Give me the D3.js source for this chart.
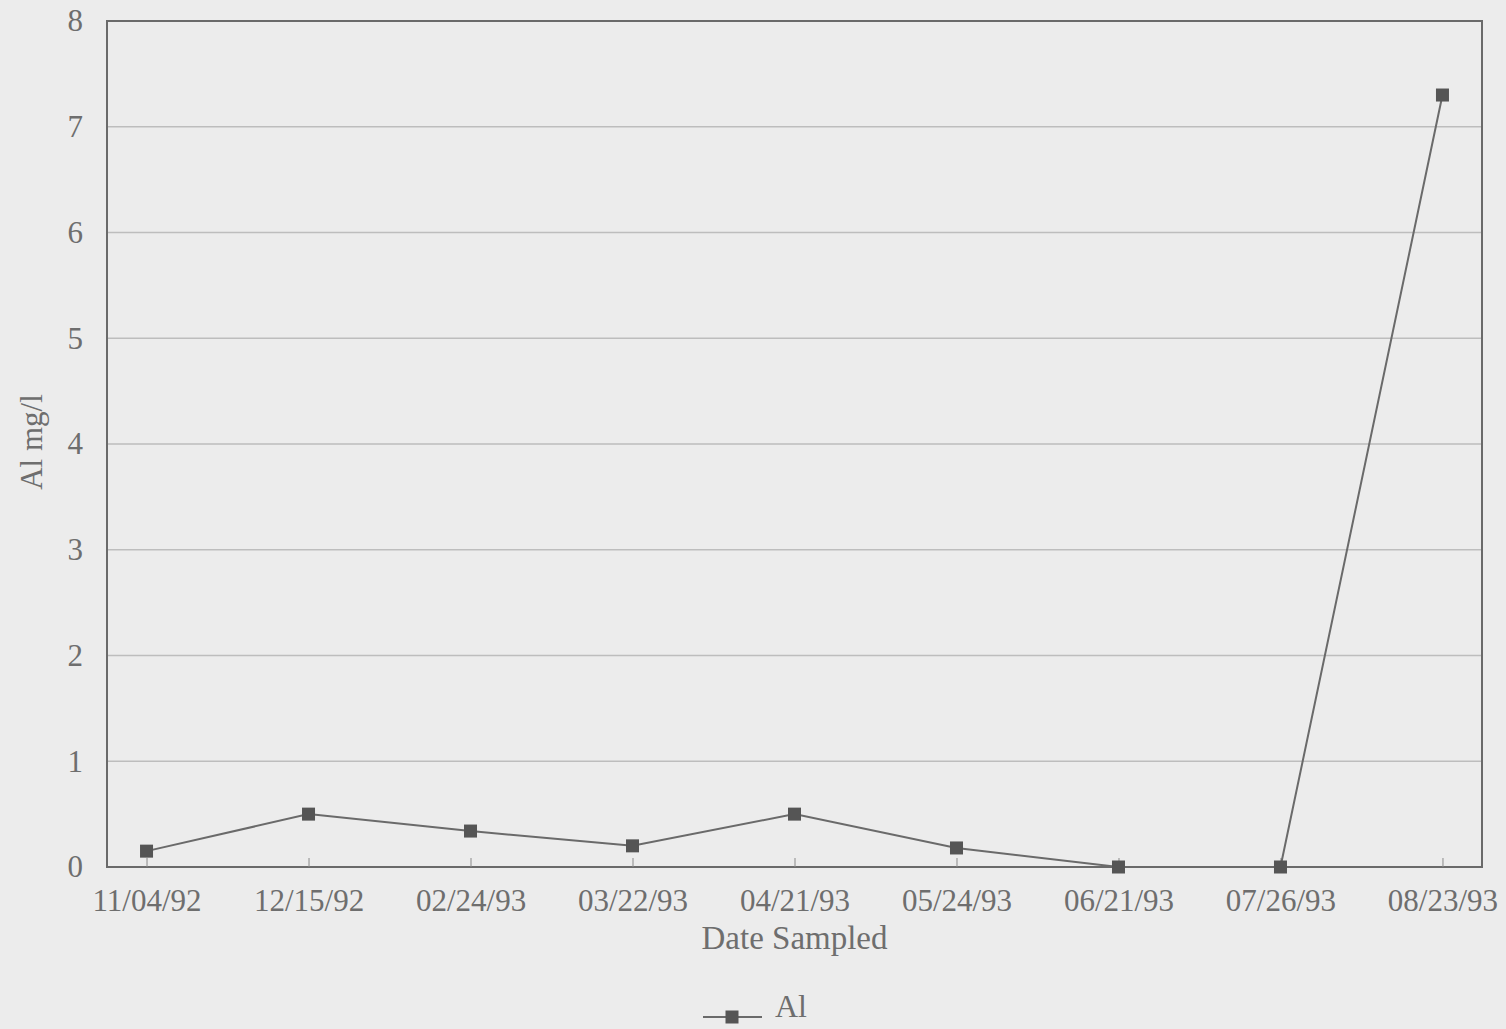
<!DOCTYPE html>
<html>
<head>
<meta charset="utf-8">
<script src="https://cdn.jsdelivr.net/npm/d3@7"></script>
<style>
  html, body { margin: 0; padding: 0; background: #ececec; }
  svg { display: block; }
  text { font-family: "Liberation Serif", "DejaVu Serif", serif; fill: #6e6e6e; }
</style>
</head>
<body>
<div id="chart"></div>
<script>
// Al concentration by sampling date
var dates = ["11/04/92", "12/15/92", "02/24/93", "03/22/93", "04/21/93",
             "05/24/93", "06/21/93", "07/26/93", "08/23/93"];
var alValues = [0.15, 0.5, 0.34, 0.2, 0.5, 0.18, 0, 0, 7.3];
var yTicks = [0, 1, 2, 3, 4, 5, 6, 7, 8];

var W = 1506, H = 1029;
var margin = { top: 21, right: 24, bottom: 162, left: 107 };
var width = W - margin.left - margin.right;
var height = H - margin.top - margin.bottom;

var svg = d3.select("#chart").append("svg")
    .attr("width", W)
    .attr("height", H);

var g = svg.append("g")
    .attr("transform", "translate(" + margin.left + "," + margin.top + ")");

var x = d3.scalePoint().domain(dates).range([0, width]).padding(0.244);
var y = d3.scaleLinear().domain([0, 8]).range([height, 0]);

// Gridlines
g.append("g")
    .selectAll("line")
    .data(yTicks.filter(function (d) { return d > 0 && d < 8; }))
    .join("line")
    .attr("x1", 0).attr("x2", width)
    .attr("y1", function (d) { return y(d); })
    .attr("y2", function (d) { return y(d); })
    .attr("stroke", "#bdbdbd")
    .attr("stroke-width", 1.3);

// Frame
g.append("rect")
    .attr("width", width).attr("height", height)
    .attr("fill", "none")
    .attr("stroke", "#6a6a6a")
    .attr("stroke-width", 2);

// Y axis labels
var yAxis = d3.axisLeft(y).tickValues(yTicks).tickSize(0).tickPadding(24)
    .tickFormat(d3.format("d"));
g.append("g").call(yAxis)
    .call(function (s) { s.select(".domain").remove(); })
    .selectAll("text")
    .attr("font-size", "31px")
    .attr("fill", "#6e6e6e")
    .attr("font-family", "Liberation Serif, serif");

// X axis: inward ticks, labels below
var xAxis = d3.axisBottom(x).tickSize(-9).tickPadding(22);
var xg = g.append("g").attr("transform", "translate(0," + height + ")").call(xAxis);
xg.select(".domain").remove();
xg.selectAll("line").attr("stroke", "#8a8a8a").attr("stroke-width", 1);
xg.selectAll("text")
    .attr("font-size", "31px")
    .attr("fill", "#6e6e6e")
    .attr("font-family", "Liberation Serif, serif");

// Series line
var line = d3.line()
    .x(function (d, i) { return x(dates[i]); })
    .y(function (d) { return y(d); });

g.append("path")
    .datum(alValues)
    .attr("d", line)
    .attr("fill", "none")
    .attr("stroke", "#6a6a6a")
    .attr("stroke-width", 2);

// Square markers
var ms = 13;
g.selectAll(".marker")
    .data(alValues)
    .join("rect")
    .attr("class", "marker")
    .attr("x", function (d, i) { return x(dates[i]) - ms / 2; })
    .attr("y", function (d) { return y(d) - ms / 2; })
    .attr("width", ms).attr("height", ms)
    .attr("fill", "#555");

// Axis titles
svg.append("text")
    .attr("x", margin.left + x(dates[4]))
    .attr("y", 949)
    .attr("text-anchor", "middle")
    .attr("font-size", "33px")
    .text("Date Sampled");

svg.append("text")
    .attr("transform", "translate(42," + (margin.top + height / 2 - 2) + ") rotate(-90)")
    .attr("text-anchor", "middle")
    .attr("font-size", "31px")
    .text("Al mg/l");

// Legend
var lg = svg.append("g").attr("transform", "translate(703,1017)");
lg.append("line").attr("x1", 0).attr("x2", 59)
    .attr("stroke", "#6a6a6a").attr("stroke-width", 2);
lg.append("rect").attr("x", 29 - ms / 2).attr("y", -ms / 2)
    .attr("width", ms).attr("height", ms).attr("fill", "#555");
lg.append("text").attr("x", 72).attr("y", 0)
    .attr("font-size", "32px").text("Al");
</script>
</body>
</html>
